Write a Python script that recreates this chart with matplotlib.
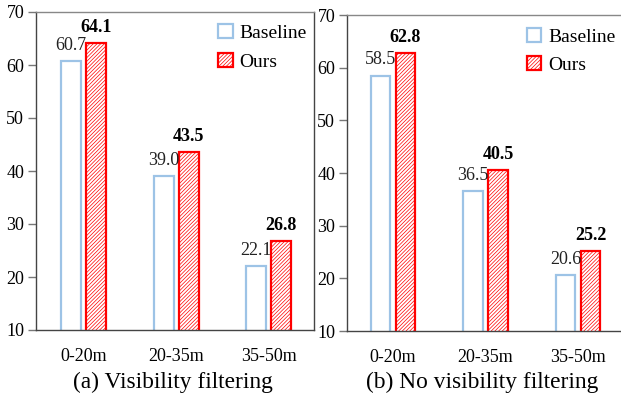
import matplotlib
matplotlib.use("Agg")
import matplotlib.pyplot as plt
import numpy as np

categories = ["0-20m", "20-35m", "35-50m"]
yticks = [10, 20, 30, 40, 50, 60, 70]
titles = ["(a) Visibility filtering", "(b) No visibility filtering"]
baseline_a = [60.7, 39.0, 22.1]
ours_a = [64.1, 43.5, 26.8]
baseline_b = [58.5, 36.5, 20.6]
ours_b = [62.8, 40.5, 25.2]

plt.rcParams['font.family'] = ['Liberation Serif', 'DejaVu Serif']
plt.rcParams['hatch.linewidth'] = 0.5

W, H = 621, 397
fig = plt.figure(figsize=(W / 100, H / 100), dpi=100)

BLUE = '#9dc3e6'
RED = '#ff0000'
SPINE = '#444444'

def px_axes(x0, y0, x1, y1):
    return fig.add_axes([x0 / W, 1 - y1 / H, (x1 - x0) / W, (y1 - y0) / H])

def draw(ax, base, ours, xlim, leg_anchor, title, title_x):
    x = np.arange(len(categories))
    bw = 0.215
    off = 0.135
    ax.bar(x - off, base, bw, facecolor='white', edgecolor=BLUE, linewidth=1.6, label='Baseline', zorder=2)
    ax.bar(x + off, ours, bw, facecolor='white', edgecolor=RED, linewidth=1.6, hatch='/////////', label='Ours', zorder=2)
    for xi, v in zip(x, base):
        ax.annotate(f"{v:.1f}", (xi - off, v), xytext=(0, 8), textcoords='offset points',
                    ha='center', va='baseline', fontsize=13, color='#222222')
    for xi, v in zip(x, ours):
        ax.annotate(f"{v:.1f}", (xi + off, v), xytext=(0, 8), textcoords='offset points',
                    ha='center', va='baseline', fontsize=13, fontweight='bold', color='black')
    ax.set_ylim(10, 70)
    ax.set_xlim(*xlim)
    ax.set_yticks(yticks)
    ax.set_xticks(x)
    ax.set_xticklabels(categories, fontsize=13)
    ax.tick_params(axis='x', length=0, pad=13)
    ax.tick_params(axis='y', length=6, width=1, color='#777777', pad=2.5, labelsize=13)
    for s in ax.spines.values():
        s.set_color(SPINE)
        s.set_linewidth(1.0)
    ax.spines['top'].set_color('#888888')
    ax.legend(loc='upper left', bbox_to_anchor=leg_anchor, frameon=False, fontsize=14,
              handlelength=0.75, handleheight=0.75, handletextpad=0.35,
              labelspacing=0.55, borderpad=0, borderaxespad=0)
    fig.text(title_x / W, 1 - 388 / H, title, ha='center', va='baseline', fontsize=16.8)

ax1 = px_axes(36, 12, 314, 330)
draw(ax1, baseline_a, ours_a, (-0.513, 2.49), (0.655, 0.962), titles[0], 173)

ax2 = px_axes(347, 15, 625, 331)
draw(ax2, baseline_b, ours_b, (-0.497, 2.508), (0.647, 0.96), titles[1], 482)

fig.savefig('out.png', dpi=100)
